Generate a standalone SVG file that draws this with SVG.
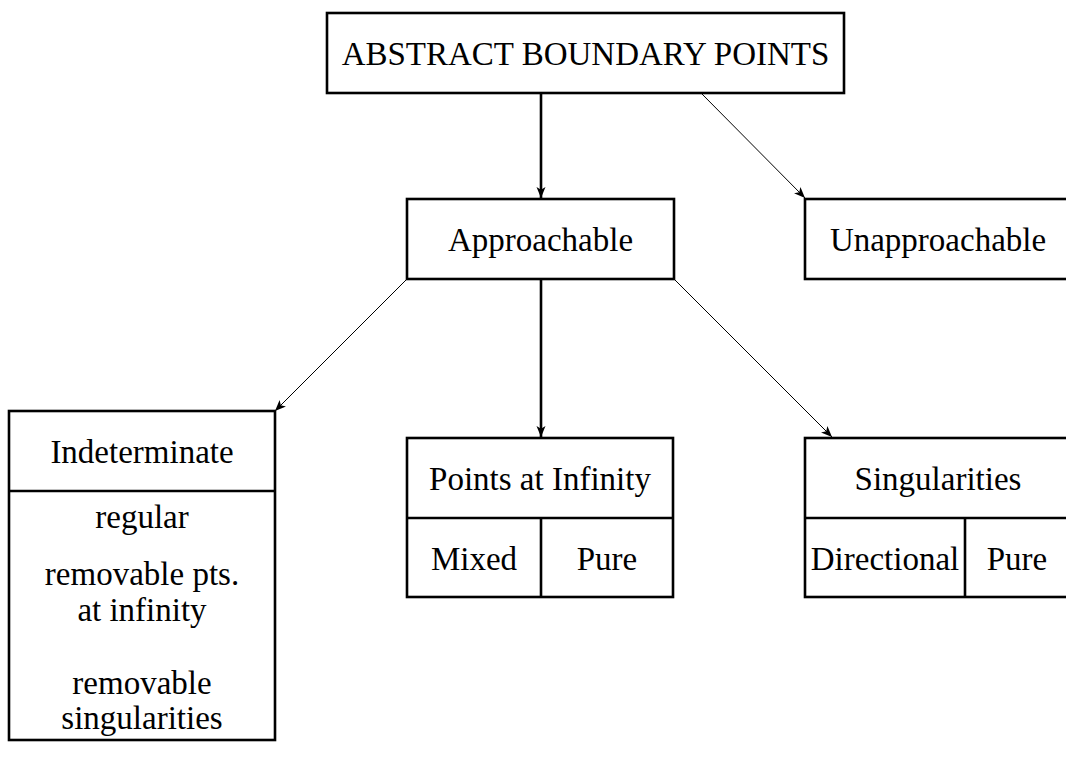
<svg xmlns="http://www.w3.org/2000/svg" width="1066" height="757" viewBox="0 0 1066 757">
<defs>
<style>
.box{fill:#fff;stroke:#000;stroke-width:2.6}
.div{stroke:#000;stroke-width:2.6;fill:none}
.t{font-family:"Liberation Serif","Times New Roman",serif;font-size:33px;fill:#000;text-anchor:middle}
.thick{stroke:#000;stroke-width:2.6;fill:none}
.thin{stroke:#000;stroke-width:1;fill:none}
</style>
<marker id="ah" markerUnits="userSpaceOnUse" markerWidth="14" markerHeight="12" refX="11" refY="5" orient="auto" viewBox="0 0 14 12">
<path d="M11,5 L0,0.5 L2.8,5 L0,9.5 Z" fill="#000"/>
</marker>
</defs>
<rect width="1066" height="757" fill="#fff"/>
<g id="connectors">
<line class="thick" x1="541" y1="93" x2="541" y2="198" marker-end="url(#ah)"/>
<line class="thin" x1="701" y1="93" x2="805" y2="198" marker-end="url(#ah)"/>
<line class="thin" x1="407" y1="279" x2="275" y2="411" marker-end="url(#ah)"/>
<line class="thick" x1="541" y1="279" x2="541" y2="437" marker-end="url(#ah)"/>
<line class="thin" x1="674" y1="279" x2="832" y2="437" marker-end="url(#ah)"/>
</g>
<g id="abstract">
<rect class="box" x="327" y="13" width="517" height="80"/>
<text class="t" x="585.5" y="65">ABSTRACT BOUNDARY POINTS</text>
</g>
<g id="approachable">
<rect class="box" x="407" y="199" width="267" height="80"/>
<text class="t" x="540.5" y="251">Approachable</text>
</g>
<g id="unapproachable">
<rect class="box" x="805" y="199" width="266" height="80"/>
<text class="t" x="938" y="251">Unapproachable</text>
</g>
<g id="indeterminate">
<rect class="box" x="9" y="411" width="266" height="329"/>
<line class="div" x1="9" y1="491" x2="275" y2="491"/>
<text class="t" x="142" y="463">Indeterminate</text>
<text class="t" x="142" y="528">regular</text>
<text class="t" x="142" y="585">removable pts.</text>
<text class="t" x="142" y="621">at infinity</text>
<text class="t" x="142" y="694">removable</text>
<text class="t" x="142" y="729">singularities</text>
</g>
<g id="points-at-infinity">
<rect class="box" x="407" y="438" width="266" height="159"/>
<line class="div" x1="407" y1="518" x2="673" y2="518"/>
<line class="div" x1="541" y1="518" x2="541" y2="597"/>
<text class="t" x="540" y="490">Points at Infinity</text>
<text class="t" x="474" y="570">Mixed</text>
<text class="t" x="607" y="570">Pure</text>
</g>
<g id="singularities">
<rect class="box" x="805" y="438" width="265" height="159"/>
<line class="div" x1="805" y1="518" x2="1070" y2="518"/>
<line class="div" x1="965" y1="518" x2="965" y2="597"/>
<text class="t" x="938" y="490">Singularities</text>
<text class="t" x="885" y="570">Directional</text>
<text class="t" x="1017" y="570">Pure</text>
</g>
</svg>
